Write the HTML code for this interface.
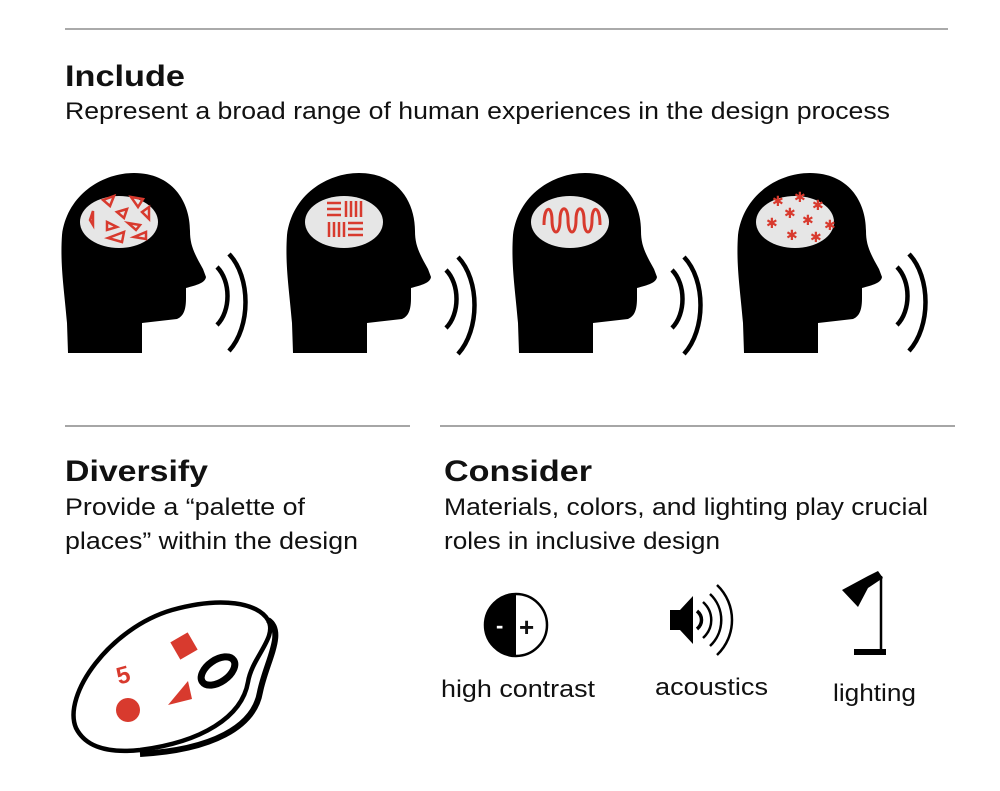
<!DOCTYPE html>
<html><head><style>
body{margin:0;background:#fff;}
svg text{font-family:"Liberation Sans",Arial,sans-serif;fill:#111;}
</style></head><body>
<svg width="1000" height="786" viewBox="0 0 1000 786" xmlns="http://www.w3.org/2000/svg">
<defs>
<g id="head">
<path d="M6,180 L5,150 C2,115 -2,92 0,62 C5,22 40,0 72,0 C110,0 128,28 128,58 C128,72 132,80 141,96 L144,104 C143,110 135,112 124,115 L124,125 C124,136 122,143 115,146 L80,150 L80,180 Z" fill="#000"/>
<ellipse cx="57" cy="49" rx="39" ry="26" fill="#e6e6e6"/>
</g>
<g id="wave" fill="none" stroke="#000" stroke-width="4.5">
<path d="M0,0 C14,14 14,44 0,58"/>
<path d="M12,-13 C34,10 34,60 12,84"/>
</g>
</defs>
<line x1="65" y1="29" x2="948" y2="29" stroke="#aaa" stroke-width="2"/>
<text x="65" y="86" font-size="30" font-weight="bold" textLength="120" lengthAdjust="spacingAndGlyphs">Include</text>
<text x="65" y="119" font-size="24" textLength="825" lengthAdjust="spacingAndGlyphs">Represent a broad range of human experiences in the design process</text>

<use href="#head" x="62" y="173"/>
<use href="#wave" x="217" y="267"/>
<g fill="none" stroke="#d83a2e" stroke-width="2.5">
<path d="M103,200 l11,-4 -4,10z M131,197 l12,2 -5,8z M117,212 l10,-3 -3,9z M142,212 l7,-5 0,12z M90,220 l3,-9 0,14z M107,222 l10,5 -10,3z M128,223 l12,2 -4,5z M108,238 l16,-6 -2,10z M134,237 l12,-5 0,7z"/>
</g>
<use href="#head" x="287" y="173"/>
<use href="#wave" x="446" y="270"/>
<g stroke="#d83a2e" stroke-width="2.5">
<path d="M327,203h14M327,209h14M327,215h14M346,201v16M351,201v16M356,201v16M361,201v16M329,222v15M334,222v15M339,222v15M344,222v15M348,223h15M348,229h15M348,235h15"/>
</g>
<use href="#head" x="513" y="173"/>
<use href="#wave" x="672" y="270"/>
<path d="M544,225 C544,205 552,205 552,220 C552,236 560,236 560,220 C560,205 568,205 568,220 C568,236 576,236 576,220 C576,205 584,205 584,220 C584,236 592,236 592,220 C592,205 600,205 600,225" fill="none" stroke="#d83a2e" stroke-width="3"/>
<use href="#head" x="738" y="173"/>
<use href="#wave" x="897" y="267"/>
<g font-size="14"><text x="772" y="206" style="fill:#d83a2e">✱</text><text x="794" y="202" style="fill:#d83a2e">✱</text><text x="812" y="210" style="fill:#d83a2e">✱</text><text x="784" y="218" style="fill:#d83a2e">✱</text><text x="766" y="228" style="fill:#d83a2e">✱</text><text x="802" y="225" style="fill:#d83a2e">✱</text><text x="824" y="230" style="fill:#d83a2e">✱</text><text x="786" y="240" style="fill:#d83a2e">✱</text><text x="810" y="242" style="fill:#d83a2e">✱</text></g>

<line x1="65" y1="426" x2="410" y2="426" stroke="#888" stroke-width="1.5"/>
<line x1="440" y1="426" x2="955" y2="426" stroke="#888" stroke-width="1.5"/>
<text x="65" y="481" font-size="30" font-weight="bold" textLength="143" lengthAdjust="spacingAndGlyphs">Diversify</text>
<text x="65" y="515" font-size="24" textLength="240" lengthAdjust="spacingAndGlyphs">Provide a “palette of</text>
<text x="65" y="549" font-size="24" textLength="293" lengthAdjust="spacingAndGlyphs">places” within the design</text>
<text x="444" y="481" font-size="30" font-weight="bold" textLength="148" lengthAdjust="spacingAndGlyphs">Consider</text>
<text x="444" y="515" font-size="24" textLength="484" lengthAdjust="spacingAndGlyphs">Materials, colors, and lighting play crucial</text>
<text x="444" y="549" font-size="24" textLength="276" lengthAdjust="spacingAndGlyphs">roles in inclusive design</text>

<!-- palette -->
<path d="M76,728 C62,695 110,628 172,610 C222,596 258,603 268,620 C278,637 252,657 248,682 C242,717 202,742 140,750 C102,754 84,744 76,728 Z" fill="#fff" stroke="#000" stroke-width="4.5"/>
<path d="M268,620 C286,632 266,662 260,692 C254,727 212,750 140,754" fill="none" stroke="#000" stroke-width="6"/>
<ellipse cx="218" cy="671" rx="19" ry="11" transform="rotate(-35 218 671)" fill="#fff" stroke="#000" stroke-width="7"/>
<rect x="174" y="636" width="20" height="20" fill="#d83a2e" transform="rotate(-30 184 646)"/>
<path d="M168,705 l20,-24 4,18z" fill="#d83a2e"/>
<circle cx="128" cy="710" r="12" fill="#d83a2e"/>
<text x="117" y="682" font-size="24" font-weight="bold" style="fill:#d83a2e" transform="rotate(-15 128 676)">5</text>

<!-- contrast -->
<circle cx="516" cy="625" r="31" fill="#fff" stroke="#000" stroke-width="2.5"/>
<path d="M516,594 A31,31 0 0 0 516,656 Z" fill="#000"/>
<text x="496" y="633" font-size="22" font-weight="bold" style="fill:#fff">-</text>
<text x="519" y="636" font-size="26" font-weight="bold">+</text>
<text x="441" y="697" font-size="24" textLength="154" lengthAdjust="spacingAndGlyphs">high contrast</text>

<!-- speaker -->
<path d="M670,610 h10 l13,-14 v48 l-13,-14 h-10z" fill="#000"/>
<path d="M697,611 C703,616 703,624 697,629" fill="none" stroke="#000" stroke-width="3.5"/>
<path d="M703,602 C714,612 714,628 703,638" fill="none" stroke="#000" stroke-width="2.5"/>
<path d="M710,594 C725,608 725,632 710,646" fill="none" stroke="#000" stroke-width="2.5"/>
<path d="M717,585 C737,604 737,636 717,655" fill="none" stroke="#000" stroke-width="2.5"/>
<text x="655" y="695" font-size="24" textLength="113" lengthAdjust="spacingAndGlyphs">acoustics</text>

<!-- lamp -->
<path d="M842,590 L868,576 L878,571 L883,578 L868,588 L858,607 Z" fill="#000"/>
<line x1="881" y1="576" x2="881" y2="650" stroke="#000" stroke-width="2.5"/>
<rect x="854" y="649" width="32" height="6" fill="#000"/>
<text x="833" y="701" font-size="24" textLength="83" lengthAdjust="spacingAndGlyphs">lighting</text>
</svg>
</body></html>
